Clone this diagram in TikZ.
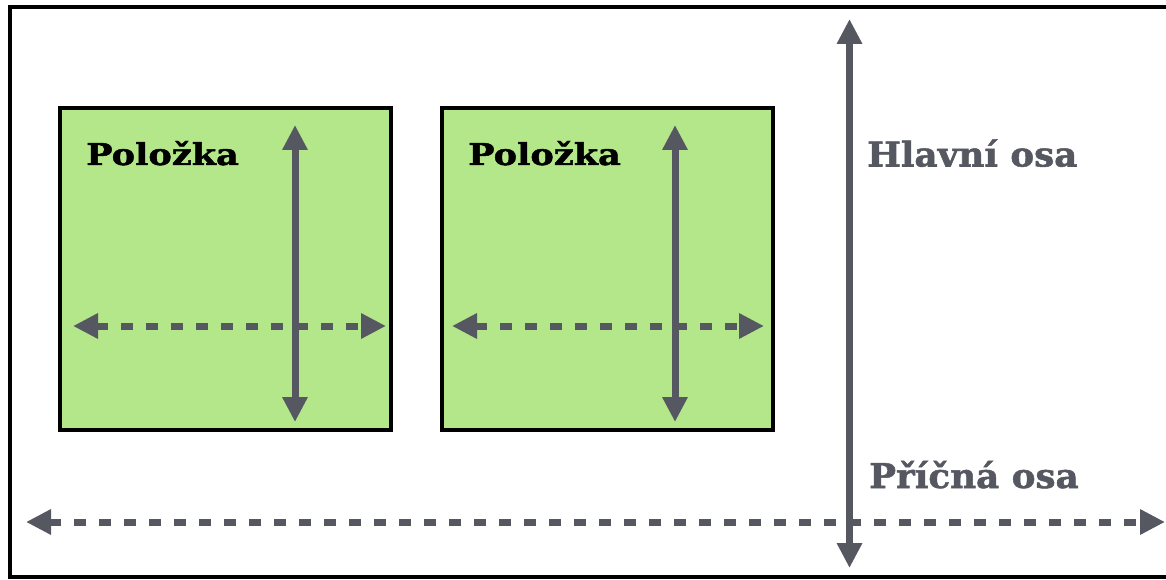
\documentclass[tikz,border=0pt]{standalone}
\usepackage{fontspec}
\setmainfont{DejaVu Serif}
\newfontfamily\itemfont[FakeStretch=1.17,FakeBold=1.5]{DejaVu Serif}
\newfontfamily\axisfont[FakeStretch=1.05,FakeBold=1.5]{DejaVu Serif}
\usetikzlibrary{arrows.meta}
\definecolor{itemgreen}{HTML}{B4E68A}
\definecolor{axisgray}{HTML}{555860}
\begin{document}
\begin{tikzpicture}[x=1pt,y=-1pt,
  item/.style={draw=black,line width=4pt,fill=itemgreen,minimum width=331pt,minimum height=322pt,inner sep=0pt,outer sep=0pt,anchor=north west},
  axisline/.style={draw=axisgray,line width=7pt,{Triangle[length=25pt,width=24pt]}-{Triangle[length=25pt,width=24pt]}},
  dashedaxis/.style={axisline,dash pattern=on 12pt off 13pt},
  itemlabel/.style={anchor=base west,inner sep=0pt,font=\itemfont\bfseries\fontsize{30}{36}\selectfont,text=black},
  axislabel/.style={anchor=base west,inner sep=0pt,font=\axisfont\bfseries\fontsize{34}{40}\selectfont,text=axisgray}]
\useasboundingbox (0,0) rectangle (1166,580);
\draw[line width=4pt] (1190,7.5) -- (10,7.5) -- (10,577) -- (1190,577);
% items
\node[item] (box1) at (59.5,108) {};
\node[item] (box2) at (442,108) {};
\node[itemlabel] (lab1) at (86,165) {Položka};
\node[itemlabel] (lab2) at (468,165) {Položka};
% arrows inside items
\coordinate (v1t) at (295,125); \coordinate (v1b) at (295,422);
\coordinate (h1l) at (73,326);  \coordinate (h1r) at (386,326);
\coordinate (v2t) at (675,125); \coordinate (v2b) at (675,422);
\coordinate (h2l) at (452,326); \coordinate (h2r) at (764,326);
\draw[dashedaxis] (h1l) -- (h1r);
\draw[axisline] (v1t) -- (v1b);
\draw[dashedaxis] (h2l) -- (h2r);
\draw[axisline] (v2t) -- (v2b);
% main axes
\coordinate (mt) at (849.5,19); \coordinate (mb) at (849.5,568);
\coordinate (cl) at (26,522);   \coordinate (cr) at (1165,522);
\draw[dashedaxis] (cl) -- (cr);
\draw[axisline] (mt) -- (mb);
\node[axislabel] (main) at (867,166.5) {Hlavní osa};
\node[axislabel] (cross) at (869,488) {Příčná osa};
\end{tikzpicture}
\end{document}
